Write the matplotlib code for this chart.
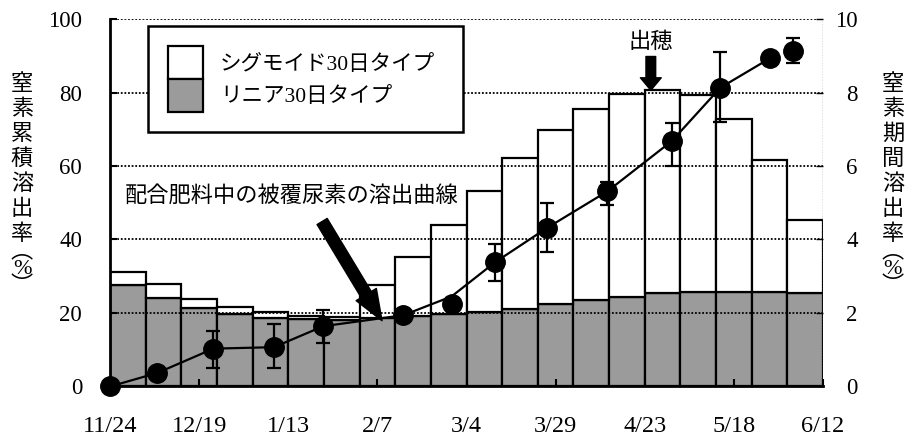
import matplotlib.pyplot as plt
from matplotlib.patches import Patch

plt.rcParams['font.family'] = ['Liberation Serif', 'Noto Sans CJK JP']

# 期間溶出率 (%) : 10日ごとの棒 (中心日, 11/24 起算)
bar_days = [5, 15, 25, 35, 45, 55, 65, 75, 85, 95,
            105, 115, 125, 135, 145, 155, 165, 175, 185, 195]
linear_30 = [2.76, 2.41, 2.13, 1.98, 1.86, 1.83, 1.81, 1.86, 1.92, 1.98,
             2.02, 2.12, 2.24, 2.35, 2.43, 2.54, 2.58, 2.58, 2.58, 2.54]
sigmoid_30 = [0.36, 0.39, 0.24, 0.18, 0.17, 0.10, 0.08, 0.90, 1.60, 2.41,
              3.29, 4.10, 4.75, 5.21, 5.52, 5.54, 5.34, 4.69, 3.59, 2.00]

# 累積溶出率 (%) : 実測値と誤差範囲
obs_days = [0, 13.3, 29, 46, 59.8, 82.3, 95.8, 108, 122.5, 139.5, 157.6, 171.2, 185.1, 191.5]
obs_vals = [0, 3.7, 10.3, 10.7, 16.4, 19.4, 22.4, 33.8, 43.1, 53.1, 66.8, 81.3, 89.3, 91.3]
obs_lo = [0, 3.7, 5.0, 5.0, 11.8, 19.4, 21.5, 28.8, 36.7, 49.5, 60.0, 71.9, 89.3, 88.0]
obs_hi = [0, 3.7, 15.0, 17.1, 20.8, 19.4, 24.0, 38.8, 49.9, 55.6, 71.8, 91.1, 89.3, 94.7]

# 配合肥料中の被覆尿素の溶出曲線
curve_days = [0, 13.3, 29, 46, 59.8, 82.3, 95.8, 108, 122.5, 139.5, 157.6, 171.2, 185.1]
curve_vals = [0, 3.7, 10.3, 10.7, 16.4, 19.4, 24.5, 33.8, 43.1, 53.1, 66.8, 81.3, 89.3]

tick_days = [0, 25, 50, 75, 100, 125, 150, 175, 200]
tick_labels = ['11/24', '12/19', '1/13', '2/7', '3/4', '3/29', '4/23', '5/18', '6/12']

heading_day = 151.7  # 出穂


def vertical_label(fig, x, chars):
    # 縦書きのラベル (1文字ずつ配置)
    y = 1 - 84.5 / 438
    for ch in chars:
        fig.text(x, y, ch, ha='center', va='center', fontsize=16)
        y -= 25 / 438
    fig.text(x, 1 - 270 / 438, '︵\n%\n︶', ha='center', va='center', fontsize=16,
             linespacing=0.9)


def main():
    fig = plt.figure(figsize=(9.1, 4.38), dpi=100)
    ax = fig.add_axes([0.1209, 0.1176, 0.7835, 0.839])
    ax2 = ax.twinx()
    ax.set_zorder(ax2.get_zorder() + 1)
    ax.patch.set_visible(False)

    ax2.bar(bar_days, linear_30, width=10, color='#9b9b9b', edgecolor='black', linewidth=1.6)
    ax2.bar(bar_days, sigmoid_30, width=10, bottom=linear_30, color='white',
            edgecolor='black', linewidth=1.6)

    for v in [20, 40, 60, 80, 100]:
        ax.axhline(v, color='black', linestyle=(0, (1, 1)), linewidth=1.3, zorder=1)

    ax.plot(curve_days, curve_vals, '-', color='black', linewidth=1.6, zorder=3)
    yerr = [[v - lo for v, lo in zip(obs_vals, obs_lo)],
            [hi - v for v, hi in zip(obs_vals, obs_hi)]]
    ax.errorbar(obs_days, obs_vals, yerr=yerr, fmt='o', color='black', markersize=14,
                elinewidth=1.6, capsize=5, capthick=1.6, zorder=4, clip_on=False)

    ax.set_xlim(0, 200)
    ax.set_ylim(0, 100)
    ax2.set_ylim(0, 10)
    ax.set_xticks(tick_days)
    ax.set_xticklabels(tick_labels)
    ax.set_yticks([0, 20, 40, 60, 80, 100])
    ax2.set_yticks([0, 2, 4, 6, 8, 10])
    ax.tick_params(axis='x', direction='in', length=5, width=1.5, labelsize=17.5, pad=21)
    ax.tick_params(axis='y', direction='in', length=5, width=1.5, labelsize=16.5, pad=20)
    ax2.tick_params(axis='y', direction='in', length=5, width=1, labelsize=16.5, pad=25)
    for lab in ax2.get_yticklabels():
        lab.set_horizontalalignment('right')

    for side in ['top', 'right']:
        ax.spines[side].set_visible(False)
        ax2.spines[side].set_visible(False)
    ax2.spines['left'].set_visible(False)
    ax2.spines['bottom'].set_visible(False)
    ax.spines['left'].set_linewidth(2)
    ax.spines['bottom'].set_linewidth(2)
    ax.axvline(200, color='#666666', linestyle=(0, (1, 1)), linewidth=1, zorder=1)

    handles = [Patch(facecolor='white', edgecolor='black', linewidth=1.6),
               Patch(facecolor='#9b9b9b', edgecolor='black', linewidth=1.6)]
    leg = ax.legend(handles, ['シグモイド30日タイプ', 'リニア30日タイプ'], loc='upper left',
                    bbox_to_anchor=(0.053, 0.700, 0.442, 0.281), mode='expand',
                    borderaxespad=0, fontsize=15.5,
                    handlelength=1.6, handleheight=1.95, labelspacing=0, handletextpad=0.8,
                    borderpad=0.95, fancybox=False, edgecolor='black', framealpha=1)
    leg.get_frame().set_linewidth(1.8)
    leg.set_zorder(5)

    ax.text(4.2, 51.8, '配合肥料中の被覆尿素の溶出曲線', fontsize=16, va='center', zorder=5)
    ax.annotate('', xy=(76.3, 17.9), xytext=(59.5, 44.9),
                arrowprops=dict(facecolor='black', edgecolor='black', width=8.5,
                                headwidth=17, headlength=22, shrink=0), zorder=5)
    ax.text(heading_day, 93.5, '出穂', fontsize=16, ha='center', va='center', zorder=5)
    ax.annotate('', xy=(heading_day, 80.6), xytext=(heading_day, 89.8),
                arrowprops=dict(facecolor='black', edgecolor='black', width=7,
                                headwidth=15, headlength=9, shrink=0), zorder=5)

    vertical_label(fig, 22 / 910, '窒素累積溶出率')
    vertical_label(fig, 893 / 910, '窒素期間溶出率')

    fig.savefig('out.png', dpi=100)


if __name__ == '__main__':
    main()
